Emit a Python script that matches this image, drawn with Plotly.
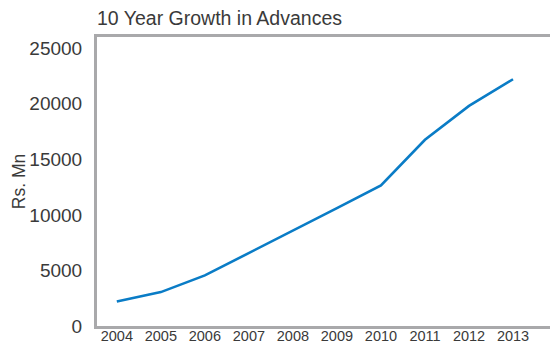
import plotly.graph_objects as go

years = [2004, 2005, 2006, 2007, 2008, 2009, 2010, 2011, 2012, 2013]
advances = [2200, 3050, 4550, 6550, 8600, 10600, 12650, 16750, 19800, 22200]
y_ticks = [0, 5000, 10000, 15000, 20000, 25000]

fig = go.Figure(
    go.Scatter(
        x=years,
        y=advances,
        mode="lines",
        line=dict(color="#0a7cc6", width=2.6),
        hoverinfo="x+y",
    )
)

axis_color = "#a9a9ab"
text_color = "#3a3a3a"
font_family = "Liberation Sans, Arial, sans-serif"

fig.update_layout(
    width=550,
    height=342,
    margin=dict(l=97, r=0, t=37, b=16, autoexpand=False),
    paper_bgcolor="white",
    plot_bgcolor="white",
    showlegend=False,
    font=dict(family=font_family, color=text_color),
    title=dict(
        text="10 Year Growth in Advances",
        x=0,
        xref="paper",
        xanchor="left",
        y=1,
        yref="container",
        yanchor="top",
        pad=dict(t=11, l=0),
        font=dict(size=19.5, color=text_color, family=font_family),
    ),
    xaxis=dict(
        range=[2003.55, 2013.84],
        tickmode="array",
        tickvals=years,
        ticktext=[str(y) for y in years],
        showgrid=False,
        zeroline=False,
        showline=True,
        linecolor=axis_color,
        linewidth=3,
        mirror=True,
        ticks="",
        automargin=False,
        tickfont=dict(size=14.5, color=text_color),
        ticklabelstandoff=-5,
    ),
    yaxis=dict(
        range=[0, 26000],
        tickmode="array",
        tickvals=y_ticks,
        ticktext=[str(v) for v in y_ticks],
        showgrid=False,
        zeroline=False,
        showline=True,
        linecolor=axis_color,
        linewidth=3,
        ticks="",
        automargin=False,
        tickfont=dict(size=19, color=text_color),
        ticklabelstandoff=8,
        title=dict(text="Rs. Mn", font=dict(size=17.5, color=text_color), standoff=0),
    ),
)

fig.write_html("out.html")
